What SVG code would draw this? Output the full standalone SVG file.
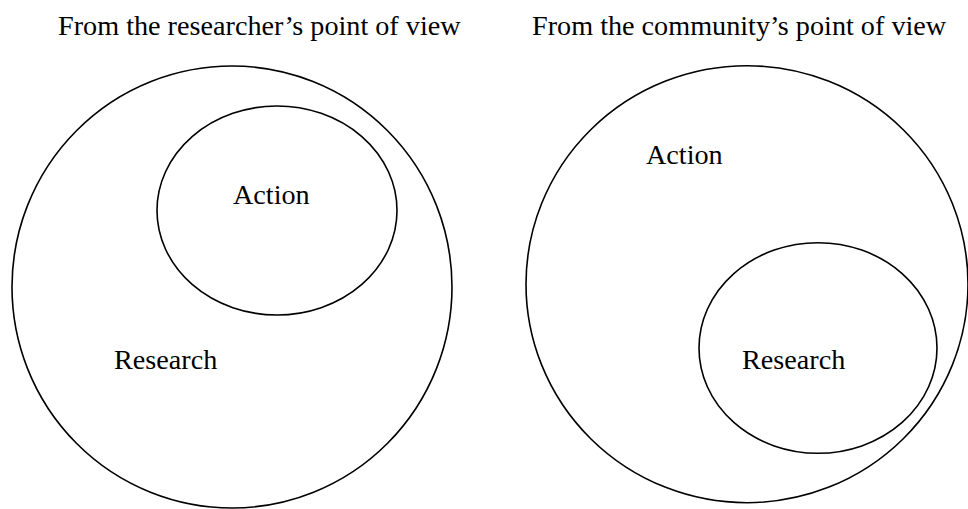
<svg xmlns="http://www.w3.org/2000/svg" width="968" height="509" viewBox="0 0 968 509">
  <style>
    .ring { fill: none; stroke: #000; stroke-width: 1.6; }
    .lbl { font-family: "Liberation Serif", "Times New Roman", serif; font-size: 28.2px; fill: #000; }
  </style>
  <rect width="968" height="509" fill="#fff"/>

  <!-- Left panel: research contains action -->
  <text class="lbl" x="58" y="35">From the researcher’s point of view</text>
  <g id="research-outer">
    <ellipse class="ring" cx="232" cy="287" rx="220" ry="221"/>
    <text class="lbl" x="114" y="369">Research</text>
  </g>
  <g id="action-inner">
    <ellipse class="ring" cx="277" cy="210.5" rx="120" ry="104.5"/>
    <text class="lbl" x="233" y="204">Action</text>
  </g>

  <!-- Right panel: action contains research -->
  <text class="lbl" x="532" y="35">From the community’s point of view</text>
  <g id="action-outer">
    <ellipse class="ring" cx="747" cy="284.2" rx="221" ry="218.5"/>
    <text class="lbl" x="646" y="164">Action</text>
  </g>
  <g id="research-inner">
    <ellipse class="ring" cx="818" cy="348" rx="119" ry="105.3"/>
    <text class="lbl" x="742" y="369">Research</text>
  </g>

  <g id="connectors"/>
</svg>
